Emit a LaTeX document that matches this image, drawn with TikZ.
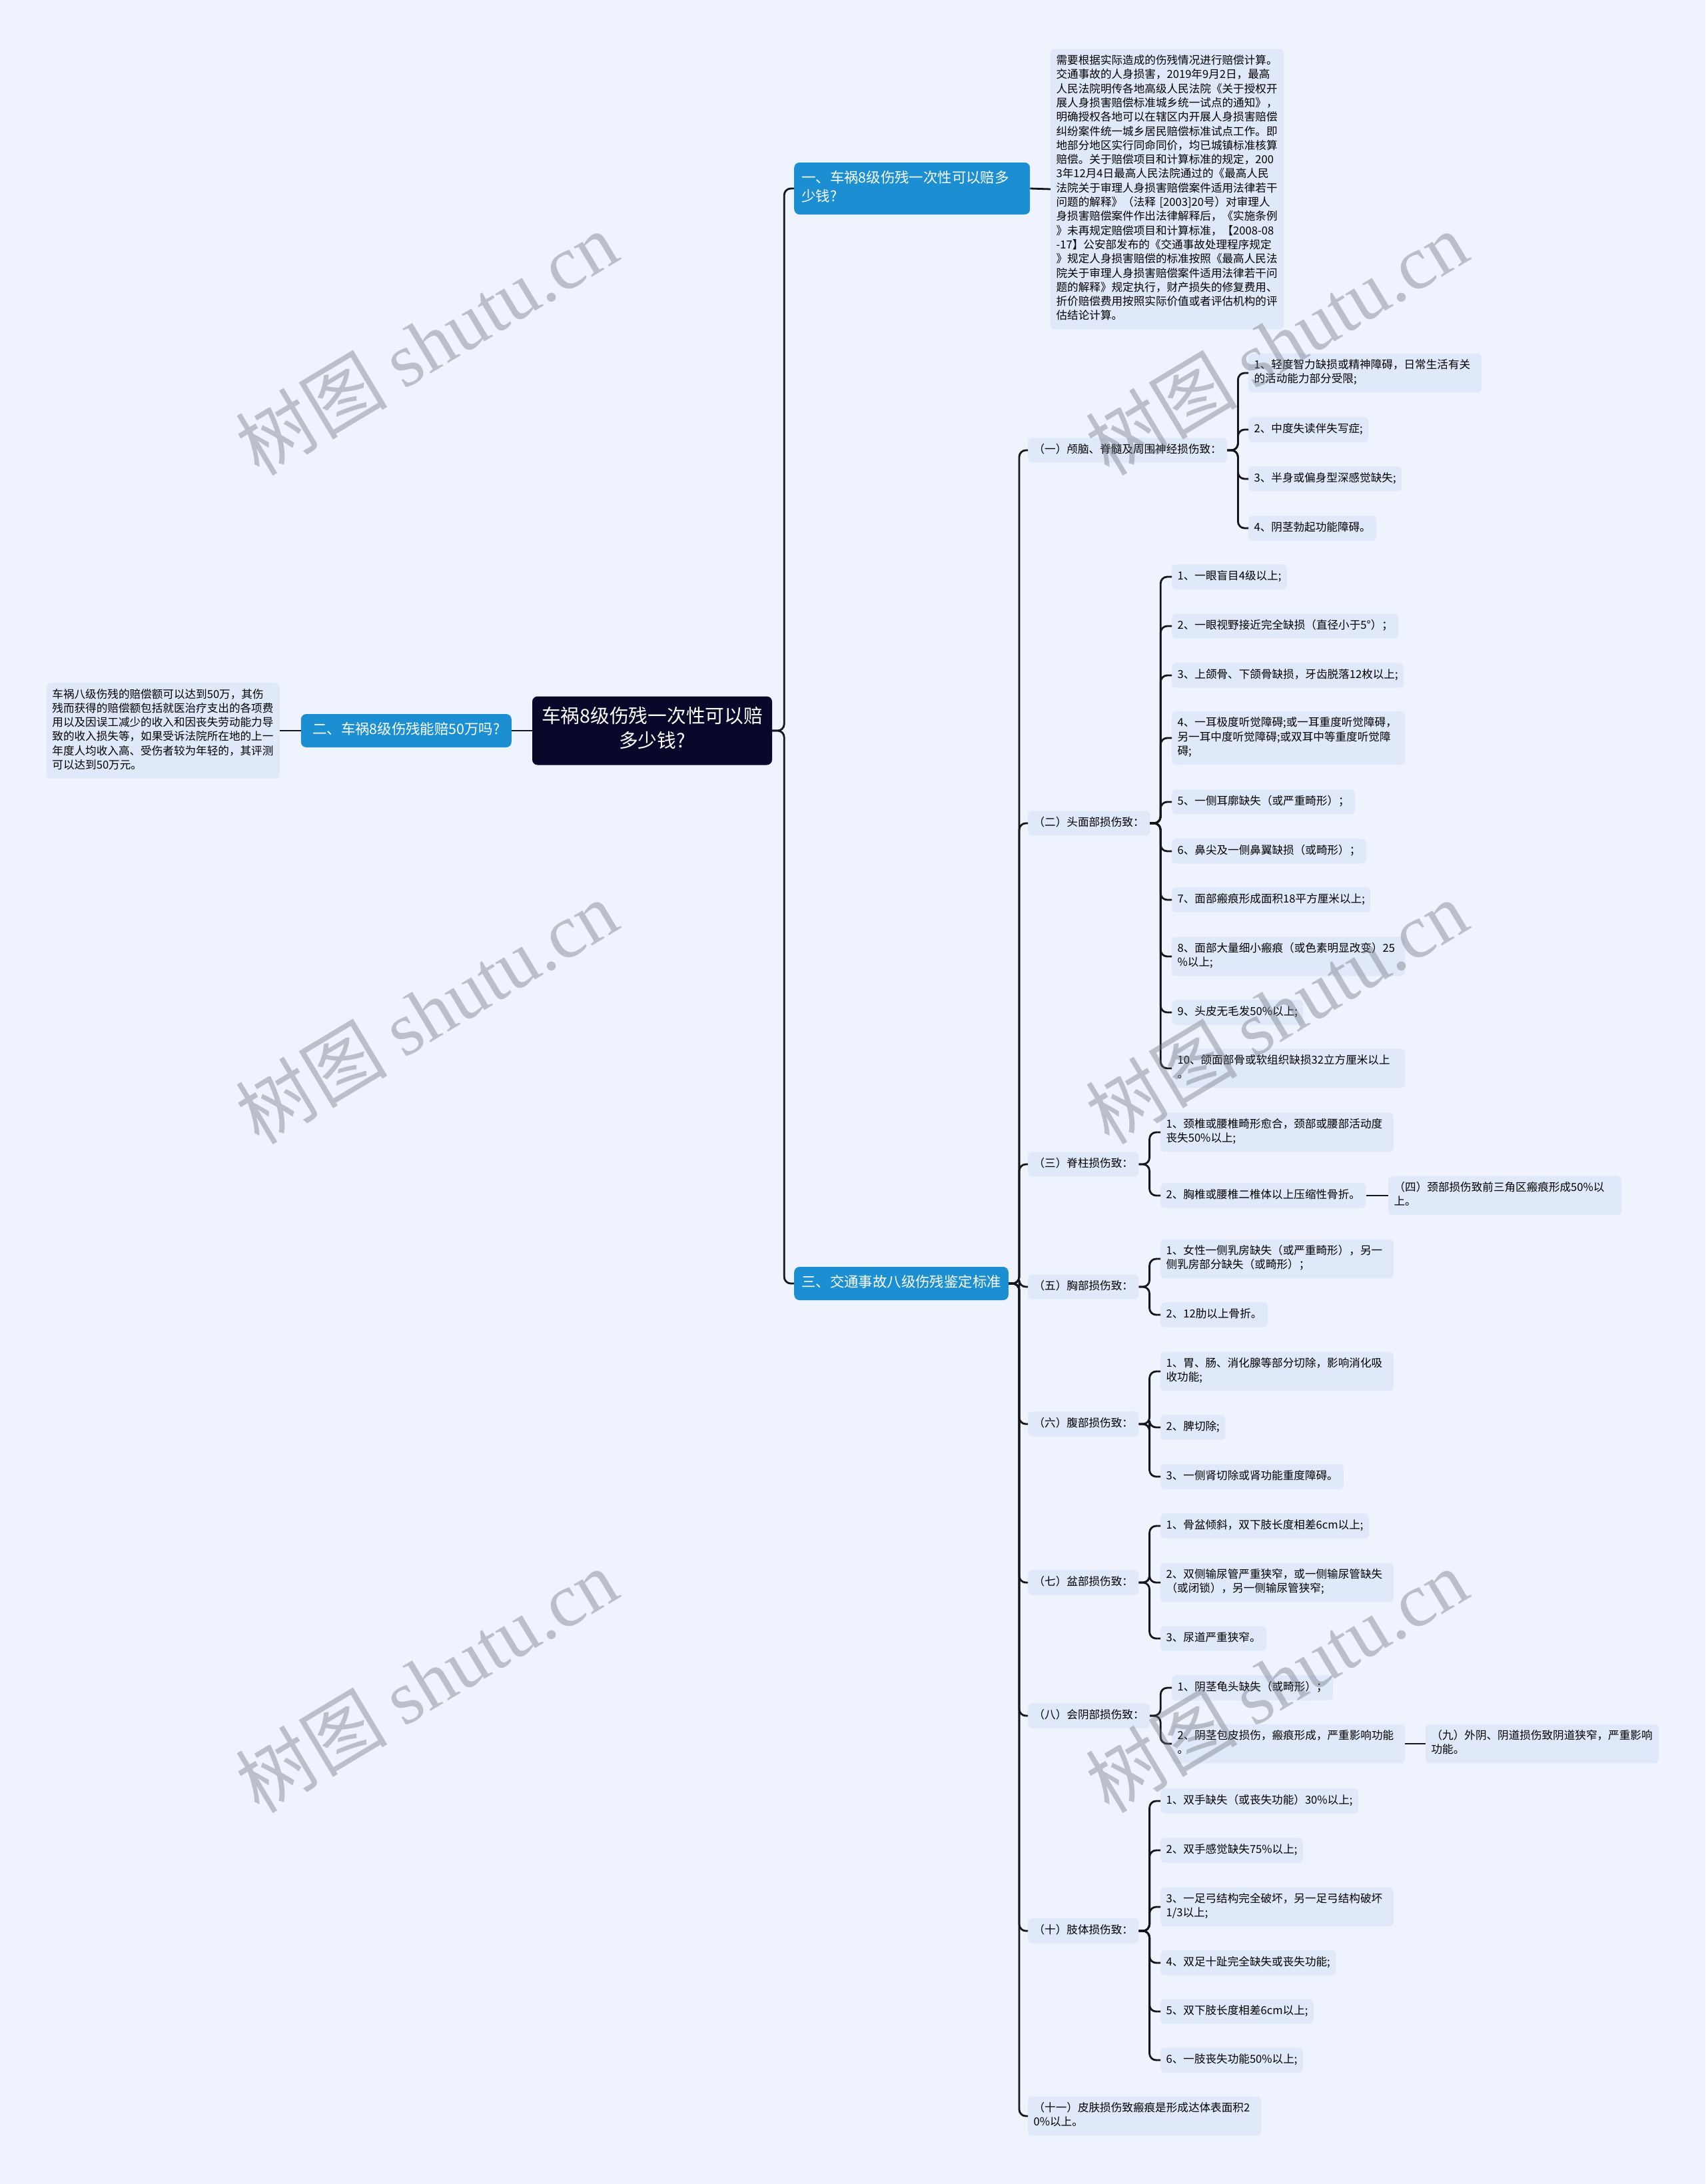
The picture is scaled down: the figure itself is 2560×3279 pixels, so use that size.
\documentclass[tikz,border=0pt]{standalone}
\usepackage{fontspec}
\setmainfont{Noto Sans CJK SC}
\newfontfamily\wmserif{Liberation Serif}
\definecolor{bgC}{RGB}{238,243,253}
\definecolor{leafC}{RGB}{224,233,250}
\definecolor{branchC}{RGB}{27,143,210}
\definecolor{rootC}{RGB}{9,8,42}
\definecolor{lineC}{RGB}{22,22,26}
\definecolor{wmC}{RGB}{110,114,124}
\tikzset{
  conn/.style={draw=lineC, line width=2.8pt, rounded corners=10pt},
  leafbox/.style={fill=leafC, rounded corners=6pt, inner xsep=8.4pt, inner ysep=8pt,
    align=left, font=\fontsize{16.6pt}{21.3pt}\selectfont,
    execute at begin node=\strut, execute at end node=\strut, anchor=west},
  wrapbox/.style={leafbox, text width=333pt},
  branchbox/.style={fill=branchC, text=white, rounded corners=8pt, inner xsep=11pt, inner ysep=11pt,
    align=left, font=\fontsize{21.4pt}{28pt}\selectfont,
    execute at begin node=\strut, execute at end node=\strut},
  rootbox/.style={fill=rootC, text=white, rounded corners=8pt, inner xsep=13pt, inner ysep=14.5pt,
    align=center, text width=334pt, font=\fontsize{28.7pt}{37pt}\selectfont,
    execute at begin node=\strut, execute at end node=\strut},
  wmark/.style={text=wmC, opacity=0.4, rotate=31, font=\fontsize{114pt}{120pt}\selectfont}
}
\begin{document}
\begin{tikzpicture}[x=1pt,y=-1pt]
\path[use as bounding box, fill=bgC] (0,0) rectangle (2560,3279);

% root and main branches
\node[rootbox] (root) at (979,1097) {车祸8级伤残一次性可以赔\\多少钱?};
\node[branchbox, anchor=west, text width=332pt] (b1) at (1192,283) {一、车祸8级伤残一次性可以赔多\\少钱?};
\node[branchbox, anchor=east, inner xsep=13pt, minimum width=316pt] (b2) at (768,1097) {二、车祸8级伤残能赔50万吗?};
\node[branchbox, anchor=west] (b3) at (1192,1927) {三、交通事故八级伤残鉴定标准};

\node[wrapbox, anchor=west] (l1) at (1577,284) {需要根据实际造成的伤残情况进行赔偿计算。\\交通事故的人身损害，2019年9月2日，最高\\人民法院明传各地高级人民法院《关于授权开\\展人身损害赔偿标准城乡统一试点的通知》，\\明确授权各地可以在辖区内开展人身损害赔偿\\纠纷案件统一城乡居民赔偿标准试点工作。即\\地部分地区实行同命同价，均已城镇标准核算\\赔偿。关于赔偿项目和计算标准的规定，200\\3年12月4日最高人民法院通过的《最高人民\\法院关于审理人身损害赔偿案件适用法律若干\\问题的解释》（法释 [2003]20号）对审理人\\身损害赔偿案件作出法律解释后，《实施条例\\》未再规定赔偿项目和计算标准，【2008-08\\-17】公安部发布的《交通事故处理程序规定\\》规定人身损害赔偿的标准按照《最高人民法\\院关于审理人身损害赔偿案件适用法律若干问\\题的解释》规定执行，财产损失的修复费用、\\折价赔偿费用按照实际价值或者评估机构的评\\估结论计算。};

\node[wrapbox, anchor=east] (l2) at (420,1097) {车祸八级伤残的赔偿额可以达到50万，其伤\\残而获得的赔偿额包括就医治疗支出的各项费\\用以及因误工减少的收入和因丧失劳动能力导\\致的收入损失等，如果受诉法院所在地的上一\\年度人均收入高、受伤者较为年轻的，其评测\\可以达到50万元。};

% sub categories
\node[leafbox] (s1) at (1543,676) {（一）颅脑、脊髓及周围神经损伤致：};
\node[leafbox] (s2) at (1543,1236) {（二）头面部损伤致：};
\node[leafbox] (s3) at (1543,1748) {（三）脊柱损伤致：};
\node[leafbox] (s5) at (1543,1932) {（五）胸部损伤致：};
\node[leafbox] (s6) at (1543,2138) {（六）腹部损伤致：};
\node[leafbox] (s7) at (1543,2376) {（七）盆部损伤致：};
\node[leafbox] (s8) at (1543,2576) {（八）会阴部损伤致：};
\node[leafbox] (s10) at (1543,2899) {（十）肢体损伤致：};
\node[wrapbox] (s11) at (1543,3177) {（十一）皮肤损伤致瘢痕是形成达体表面积2\\0\%以上。};

% (一) children
\node[wrapbox] (c11) at (1874,560) {1、轻度智力缺损或精神障碍，日常生活有关\\的活动能力部分受限;};
\node[leafbox] (c12) at (1874,645) {2、中度失读伴失写症;};
\node[leafbox] (c13) at (1874,719) {3、半身或偏身型深感觉缺失;};
\node[leafbox] (c14) at (1874,793) {4、阴茎勃起功能障碍。};

% (二) children
\node[leafbox] (c21) at (1759,866) {1、一眼盲目4级以上;};
\node[leafbox] (c22) at (1759,940) {2、一眼视野接近完全缺损（直径小于5°）；};
\node[leafbox] (c23) at (1759,1014) {3、上颌骨、下颌骨缺损，牙齿脱落12枚以上;};
\node[wrapbox] (c24) at (1759,1108) {4、一耳极度听觉障碍;或一耳重度听觉障碍，\\另一耳中度听觉障碍;或双耳中等重度听觉障\\碍;};
\node[leafbox] (c25) at (1759,1204) {5、一侧耳廓缺失（或严重畸形）；};
\node[leafbox] (c26) at (1759,1278) {6、鼻尖及一侧鼻翼缺损（或畸形）；};
\node[leafbox] (c27) at (1759,1351) {7、面部瘢痕形成面积18平方厘米以上;};
\node[wrapbox] (c28) at (1759,1436) {8、面部大量细小瘢痕（或色素明显改变）25\\\%以上;};
\node[leafbox] (c29) at (1759,1520) {9、头皮无毛发50\%以上;};
\node[wrapbox] (c2a) at (1759,1604) {10、颌面部骨或软组织缺损32立方厘米以上\\。};

% (三) children
\node[wrapbox] (c31) at (1742,1700) {1、颈椎或腰椎畸形愈合，颈部或腰部活动度\\丧失50\%以上;};
\node[leafbox] (c32) at (1742,1795) {2、胸椎或腰椎二椎体以上压缩性骨折。};
\node[wrapbox] (c4) at (2084,1795) {（四）颈部损伤致前三角区瘢痕形成50\%以\\上。};

% (五) children
\node[wrapbox] (c51) at (1742,1890) {1、女性一侧乳房缺失（或严重畸形），另一\\侧乳房部分缺失（或畸形）；};
\node[leafbox] (c52) at (1742,1974) {2、12肋以上骨折。};

% (六) children
\node[wrapbox] (c61) at (1742,2059) {1、胃、肠、消化腺等部分切除，影响消化吸\\收功能;};
\node[leafbox] (c62) at (1742,2143) {2、脾切除;};
\node[leafbox] (c63) at (1742,2217) {3、一侧肾切除或肾功能重度障碍。};

% (七) children
\node[leafbox] (c71) at (1742,2291) {1、骨盆倾斜，双下肢长度相差6cm以上;};
\node[wrapbox] (c72) at (1742,2376) {2、双侧输尿管严重狭窄，或一侧输尿管缺失\\（或闭锁），另一侧输尿管狭窄;};
\node[leafbox] (c73) at (1742,2460) {3、尿道严重狭窄。};

% (八) children
\node[leafbox] (c81) at (1759,2534) {1、阴茎龟头缺失（或畸形）；};
\node[wrapbox] (c82) at (1759,2618) {2、阴茎包皮损伤，瘢痕形成，严重影响功能\\。};
\node[wrapbox] (c9) at (2140,2618) {（九）外阴、阴道损伤致阴道狭窄，严重影响\\功能。};

% (十) children
\node[leafbox] (ca1) at (1742,2704) {1、双手缺失（或丧失功能）30\%以上;};
\node[leafbox] (ca2) at (1742,2778) {2、双手感觉缺失75\%以上;};
\node[wrapbox] (ca3) at (1742,2863) {3、一足弓结构完全破坏，另一足弓结构破坏\\1/3以上;};
\node[leafbox] (ca4) at (1742,2947) {4、双足十趾完全缺失或丧失功能;};
\node[leafbox] (ca5) at (1742,3020) {5、双下肢长度相差6cm以上;};
\node[leafbox] (ca6) at (1742,3093) {6、一肢丧失功能50\%以上;};

% connectors
\draw[conn] (root.east) -- ++(18,0) |- (b1.west);
\draw[conn] (root.east) -- ++(18,0) |- (b3.west);
\draw[conn] (root.west) -- (b2.east);
\draw[conn] (b2.west) -- (l2.east);
\draw[conn] (b1.east) -- (l1.west);
\foreach \s in {s1,s2,s3,s5,s6,s7,s8,s10,s11}
  \draw[conn] (b3.east) -- ++(16,0) |- (\s.west);
\foreach \p/\c in {s1/c11,s1/c12,s1/c13,s1/c14,
  s2/c21,s2/c22,s2/c23,s2/c24,s2/c25,s2/c26,s2/c27,s2/c28,s2/c29,s2/c2a,
  s3/c31,s3/c32,s5/c51,s5/c52,s6/c61,s6/c62,s6/c63,
  s7/c71,s7/c72,s7/c73,s8/c81,s8/c82,
  s10/ca1,s10/ca2,s10/ca3,s10/ca4,s10/ca5,s10/ca6}
  \draw[conn] (\p.east) -- ++(16,0) |- (\c.west);
\draw[conn] (c32.east) -- (c4.west);
\draw[conn] (c82.east) -- (c9.west);

% watermarks
\node[wmark] (w1) at (640,515) {树图 {\wmserif shutu.cn}};
\node[wmark] (w2) at (1916,515) {树图 {\wmserif shutu.cn}};
\node[wmark] (w3) at (640,1519) {树图 {\wmserif shutu.cn}};
\node[wmark] (w4) at (1916,1519) {树图 {\wmserif shutu.cn}};
\node[wmark] (w5) at (640,2523) {树图 {\wmserif shutu.cn}};
\node[wmark] (w6) at (1916,2523) {树图 {\wmserif shutu.cn}};
\end{tikzpicture}
\end{document}
